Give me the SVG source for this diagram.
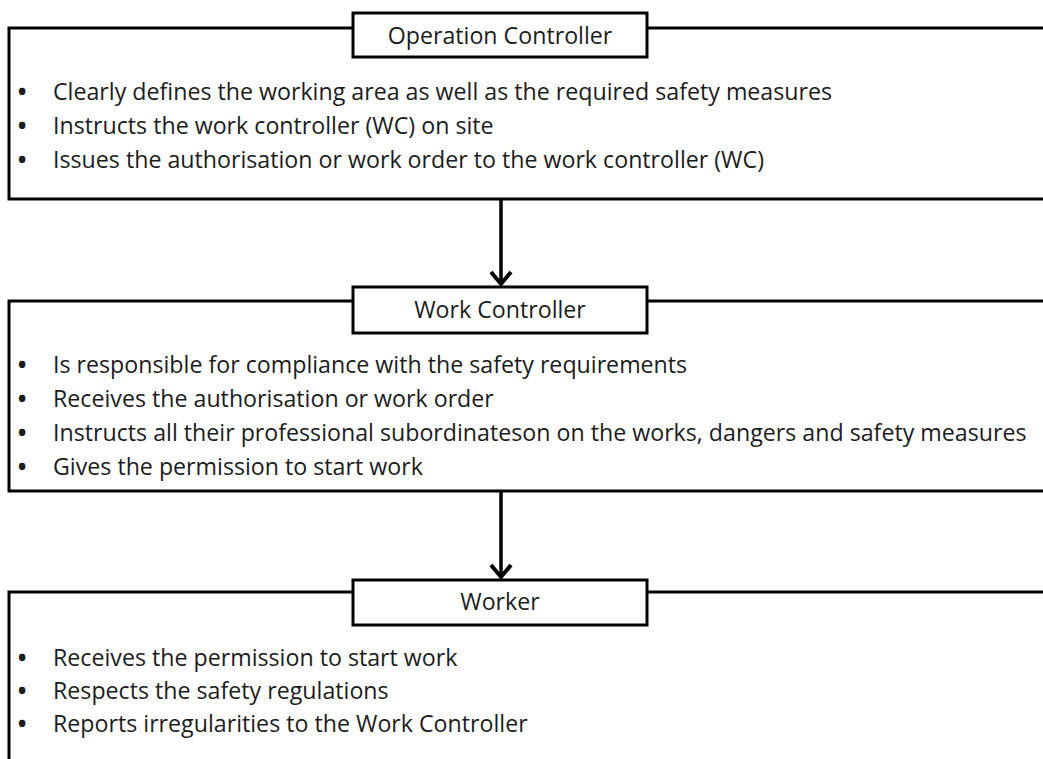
<svg xmlns="http://www.w3.org/2000/svg" width="1043" height="759" viewBox="0 0 1043 759">
  <defs>
    <style>
      .box { fill: #ffffff; stroke: #000000; stroke-width: 3; }
      .title { fill: #ffffff; stroke: #000000; stroke-width: 3; }
      .t { font-family: "Open Sans", "Liberation Sans", sans-serif; font-size: 23.2px; fill: #1c1c1c; }
      .tc { text-anchor: middle; }
      .bul { font-family: "Open Sans", "Liberation Sans", sans-serif; font-size: 23.2px; font-weight: bold; fill: #1c1c1c; text-anchor: middle; }
      .conn { stroke: #000000; stroke-width: 3.5; fill: none; }
      .head { stroke: #000000; stroke-width: 4; fill: none; stroke-linejoin: miter; }
    </style>
  </defs>
  <rect width="1043" height="759" fill="#ffffff"/>

  <g id="operation-controller">
    <rect class="box" x="9" y="28" width="1060" height="171"/>
    <rect class="title" x="353" y="13" width="294" height="44"/>
    <text class="t tc" x="500" y="44">Operation Controller</text>
    <text class="bul" x="22" y="100">•</text>
    <text class="t" x="53" y="100">Clearly defines the working area as well as the required safety measures</text>
    <text class="bul" x="22" y="134">•</text>
    <text class="t" x="53" y="134">Instructs the work controller (WC) on site</text>
    <text class="bul" x="22" y="168">•</text>
    <text class="t" x="53" y="168">Issues the authorisation or work order to the work controller (WC)</text>
  </g>

  <g id="work-controller">
    <rect class="box" x="9" y="301" width="1060" height="190"/>
    <rect class="title" x="353" y="287" width="294" height="46"/>
    <text class="t tc" x="500" y="318">Work Controller</text>
    <text class="bul" x="22" y="373">•</text>
    <text class="t" x="53" y="373">Is responsible for compliance with the safety requirements</text>
    <text class="bul" x="22" y="407">•</text>
    <text class="t" x="53" y="407">Receives the authorisation or work order</text>
    <text class="bul" x="22" y="441">•</text>
    <text class="t" x="53" y="441">Instructs all their professional subordinateson on the works, dangers and safety measures</text>
    <text class="bul" x="22" y="475">•</text>
    <text class="t" x="53" y="475">Gives the permission to start work</text>
  </g>

  <g id="worker">
    <rect class="box" x="9" y="592" width="1060" height="200"/>
    <rect class="title" x="353" y="580" width="294" height="45"/>
    <text class="t tc" x="500" y="610">Worker</text>
    <text class="bul" x="22" y="666">•</text>
    <text class="t" x="53" y="666">Receives the permission to start work</text>
    <text class="bul" x="22" y="699">•</text>
    <text class="t" x="53" y="699">Respects the safety regulations</text>
    <text class="bul" x="22" y="732">•</text>
    <text class="t" x="53" y="732">Reports irregularities to the Work Controller</text>
  </g>

  <g id="connectors">
    <path class="conn" d="M501 199 V284"/>
    <path class="head" d="M491 272 L501 284 L511 272"/>
    <path class="conn" d="M501 491 V577"/>
    <path class="head" d="M491 565 L501 577 L511 565"/>
  </g>
</svg>
